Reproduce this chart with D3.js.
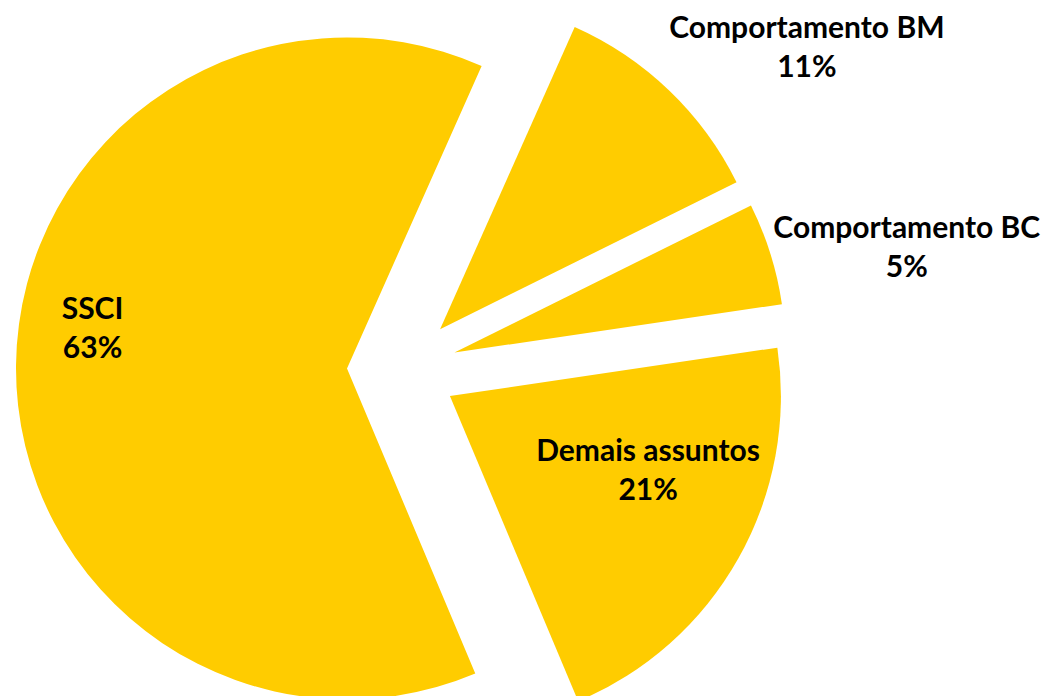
<!DOCTYPE html>
<html>
<head>
<meta charset="utf-8">
<script src="https://cdn.jsdelivr.net/npm/d3@7"></script>
<style>
  html, body { margin: 0; padding: 0; background: #ffffff; }
  svg { display: block; }
  .lbl { font-family: "Lato", "Open Sans", sans-serif; font-weight: 700; fill: #000; }
</style>
</head>
<body>
<svg id="chart" width="1044" height="696"></svg>
<script>
// Share of publications by subject
const categories = ["Comportamento BM", "Comportamento BC", "Demais assuntos", "SSCI"];
const values = [11, 5, 21, 63];
const valueLabels = ["11%", "5%", "21%", "63%"];

// Label placement, polar around the pie centre: [distance, angle in degrees clockwise from 12 o'clock]
const labelPolar = [[511, 52.4], [517, 77.5], [270, 114.3], [311, 275.7]];

const W = 1044, H = 696;
const cx = 402, cy = 369;
const radius = 331;
const explode = 55;
const fillColor = "#FFCC00";
const startDeg = 24;

const svg = d3.select("#chart");
svg.append("rect").attr("width", W).attr("height", H).attr("fill", "#fff");

const data = categories.map((c, i) => ({ name: c, value: values[i], label: valueLabels[i], pos: labelPolar[i] }));

const start = startDeg * Math.PI / 180;
const pie = d3.pie().value(d => d.value).sort(null)
  .startAngle(start).endAngle(start + 2 * Math.PI);
const arc = d3.arc().innerRadius(0).outerRadius(radius);

const g = svg.append("g").attr("transform", `translate(${cx},${cy})`);

// Every slice is pulled out from the centre along its bisector
g.selectAll("path.slice")
  .data(pie(data))
  .join("path")
  .attr("class", "slice")
  .attr("fill", fillColor)
  .attr("d", arc)
  .attr("transform", d => {
    const mid = (d.startAngle + d.endAngle) / 2;
    return `translate(${explode * Math.sin(mid)},${-explode * Math.cos(mid)})`;
  });

// Two-line labels: category name over its percentage
const lineGap = 39;
const labels = g.selectAll("text.lbl")
  .data(data)
  .join("text")
  .attr("class", "lbl")
  .attr("text-anchor", "middle")
  .attr("font-size", 30)
  .attr("transform", d => {
    const a = d.pos[1] * Math.PI / 180;
    return `translate(${d.pos[0] * Math.sin(a)},${-d.pos[0] * Math.cos(a)})`;
  });
labels.append("tspan").attr("x", 0).attr("y", -lineGap / 2).text(d => d.name);
labels.append("tspan").attr("x", 0).attr("y", lineGap / 2).text(d => d.label);
</script>
</body>
</html>
